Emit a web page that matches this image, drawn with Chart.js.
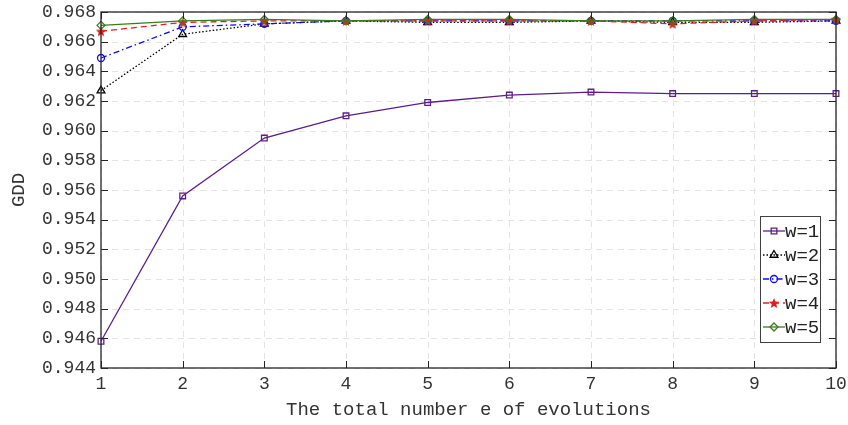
<!DOCTYPE html>
<html>
<head>
<meta charset="utf-8">
<script src="https://cdn.jsdelivr.net/npm/chart.js@4/dist/chart.umd.min.js"></script>
<style>
  html, body { margin: 0; padding: 0; background: #fff; }
  #wrap { width: 848px; height: 425px; }
</style>
</head>
<body>
<div id="wrap"><canvas id="gdd"></canvas></div>
<script>
// data
const evolutions = [1, 2, 3, 4, 5, 6, 7, 8, 9, 10];
const w1 = [0.9458, 0.9556, 0.9595, 0.9610, 0.9619, 0.9624, 0.9626, 0.9625, 0.9625, 0.9625];
const w2 = [0.9627, 0.9665, 0.9672, 0.9674, 0.9673, 0.9673, 0.9674, 0.9673, 0.9673, 0.9674];
const w3 = [0.9649, 0.9670, 0.9672, 0.9674, 0.9674, 0.9674, 0.9674, 0.9674, 0.9674, 0.9674];
const w4 = [0.9667, 0.9673, 0.9674, 0.9674, 0.9674, 0.9674, 0.9674, 0.9672, 0.9674, 0.9675];
const w5 = [0.9671, 0.9674, 0.9675, 0.9674, 0.9675, 0.9675, 0.9674, 0.9674, 0.9675, 0.9675];
const yTicks = [0.944, 0.946, 0.948, 0.950, 0.952, 0.954, 0.956, 0.958, 0.960, 0.962, 0.964, 0.966, 0.968];

const MONO = "'Liberation Mono', 'DejaVu Sans Mono', monospace";

// star marker for w=4
function starCanvas(color){
  const c = document.createElement("canvas");
  c.width = 12; c.height = 12;
  const g = c.getContext("2d");
  g.fillStyle = color;
  g.beginPath();
  for (let i = 0; i < 10; i++){
    const r = i % 2 ? 2.4 : 5.5;
    const a = -Math.PI / 2 + i * Math.PI / 5;
    const px = 6 + r * Math.cos(a), py = 6.5 + r * Math.sin(a);
    i ? g.lineTo(px, py) : g.moveTo(px, py);
  }
  g.closePath();
  g.fill();
  return c;
}

const series = [
  { label: "w=1", data: w1, color: "#5d1f87", dash: [],        marker: "rect",     radius: 4 },
  { label: "w=2", data: w2, color: "#000000", dash: [1.5, 2],  marker: "triangle", radius: 4.5 },
  { label: "w=3", data: w3, color: "#0a0aff", dash: [6, 3, 1.5, 3], marker: "circle", radius: 3.5 },
  { label: "w=4", data: w4, color: "#e0201c", dash: [6, 4],    marker: starCanvas("#e0201c"), radius: 5 },
  { label: "w=5", data: w5, color: "#3f7a1c", dash: [],        marker: "rectRot",  radius: 4 }
];

// box, inward ticks and legend, MATLAB style
const matlabFrame = {
  id: "matlabFrame",
  beforeDatasetsDraw(chart){
    // dashed grid
    const { ctx, chartArea: a, scales } = chart;
    ctx.save();
    ctx.strokeStyle = "#e4e4e4";
    ctx.lineWidth = 1;
    ctx.setLineDash([6, 5]);
    ctx.beginPath();
    evolutions.forEach((v, i) => {
      const x = Math.round(scales.x.getPixelForValue(i)) + 0.5;
      ctx.moveTo(x, a.top); ctx.lineTo(x, a.bottom);
    });
    yTicks.forEach(v => {
      const y = Math.round(scales.y.getPixelForValue(v)) + 0.5;
      ctx.moveTo(a.left, y); ctx.lineTo(a.right, y);
    });
    ctx.stroke();
    ctx.restore();
  },
  afterDatasetsDraw(chart){
    const { ctx, chartArea: a, scales } = chart;
    ctx.save();
    ctx.strokeStyle = "#262626";
    ctx.lineWidth = 1.3;
    ctx.setLineDash([]);
    ctx.strokeRect(a.left, a.top, a.right - a.left, a.bottom - a.top);
    ctx.lineWidth = 1;
    ctx.beginPath();
    evolutions.forEach((v, i) => {
      const x = Math.round(scales.x.getPixelForValue(i)) + 0.5;
      ctx.moveTo(x, a.bottom); ctx.lineTo(x, a.bottom - 7);
      ctx.moveTo(x, a.top); ctx.lineTo(x, a.top + 7);
    });
    yTicks.forEach(v => {
      const y = Math.round(scales.y.getPixelForValue(v)) + 0.5;
      ctx.moveTo(a.left, y); ctx.lineTo(a.left + 7, y);
      ctx.moveTo(a.right, y); ctx.lineTo(a.right - 7, y);
    });
    ctx.stroke();

    // legend
    const bx = a.right - 76, by = a.bottom - 152, bw = 60, bh = 126;
    ctx.fillStyle = "#fff";
    ctx.fillRect(bx, by, bw, bh);
    ctx.strokeStyle = "#404040";
    ctx.strokeRect(bx + 0.5, by + 0.5, bw, bh);
    chart.data.datasets.forEach((ds, i) => {
      const y = by + 15 + i * 24;
      ctx.strokeStyle = ds.borderColor;
      ctx.lineWidth = 1.3;
      ctx.setLineDash(ds.borderDash);
      ctx.beginPath(); ctx.moveTo(bx + 3, y); ctx.lineTo(bx + 25, y); ctx.stroke();
      ctx.setLineDash([]);
      ctx.fillStyle = "rgba(255,255,255,0)";
      Chart.helpers.drawPoint(ctx, {
        pointStyle: ds.pointStyle, radius: ds.pointRadius, borderWidth: 1.3, rotation: 0
      }, bx + 14, y);
      ctx.fillStyle = "#222";
      ctx.font = "19px " + MONO;
      ctx.textBaseline = "middle";
      ctx.fillText(ds.label, bx + 25, y + 1);
    });
    ctx.restore();
  }
};

new Chart(document.getElementById("gdd"), {
  type: "line",
  data: {
    labels: evolutions,
    datasets: series.map((s, i) => ({
      label: s.label,
      data: s.data,
      borderColor: s.color,
      backgroundColor: i === 3 ? s.color : "#ffffff",
      borderWidth: 1.3,
      borderDash: s.dash,
      pointStyle: s.marker,
      pointRadius: s.radius,
      pointBorderWidth: 1.3,
      pointBorderColor: s.color,
      pointBackgroundColor: "rgba(255,255,255,0)",
      tension: 0,
      order: 4 - i
    }))
  },
  options: {
    responsive: true,
    maintainAspectRatio: false,
    animation: false,
    layout: { padding: { top: 12, right: 12, left: 8, bottom: 0 } },
    plugins: { legend: { display: false }, tooltip: { enabled: false } },
    scales: {
      x: {
        type: "category",
        offset: false,
        grid: { display: false, drawTicks: false },
        border: { display: false },
        ticks: { color: "#333", font: { family: MONO, size: 18 }, padding: 5, maxRotation: 0, autoSkip: false },
        title: { display: true, text: "The total number e of evolutions", color: "#333",
                 font: { family: MONO, size: 19 }, padding: { top: 0, bottom: 4 } },
        afterFit: s => { s.height = 57; s.paddingLeft = 0; s.paddingRight = 0; }
      },
      y: {
        min: 0.944,
        max: 0.968,
        afterBuildTicks: s => { s.ticks = yTicks.map(v => ({ value: v })); },
        grid: { display: false, drawTicks: false },
        border: { display: false },
        ticks: { color: "#333", font: { family: MONO, size: 18 }, padding: 5,
                 callback: v => v.toFixed(3) },
        title: { display: true, text: "GDD", color: "#333", font: { family: MONO, size: 19 }, padding: 0 },
        afterFit: s => { s.width = 93; s.paddingTop = 0; s.paddingBottom = 0; }
      }
    }
  },
  plugins: [matlabFrame]
});
</script>
</body>
</html>
